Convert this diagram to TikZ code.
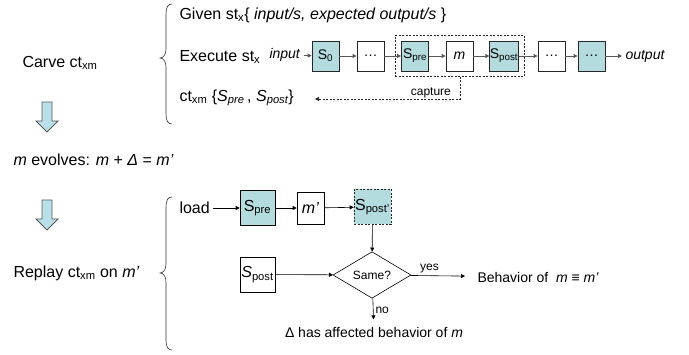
\documentclass[tikz,border=0pt]{standalone}
\usepackage{fontspec}
\setmainfont{Liberation Sans}
\usetikzlibrary{arrows.meta,shapes.geometric,fit}
\definecolor{boxfill}{RGB}{180,220,222}
\definecolor{arrowfill}{RGB}{185,223,232}
\tikzset{
  tbox/.style={draw=black!85, line width=0.8pt, minimum width=27pt, minimum height=30pt,
    inner sep=0pt, font=\fontsize{14}{16}\selectfont},
  bbox/.style={draw=black, line width=0.6pt, minimum width=35pt, minimum height=35pt,
    inner sep=0pt, font=\fontsize{16}{18}\selectfont},
  tarrow/.style={draw=black!65, line width=0.9pt, -{Triangle[length=4pt,width=4pt]}},
  barrow/.style={draw=black, line width=0.6pt, -{Triangle[length=4pt,width=4pt]}},
  capline/.style={draw=black!85, line width=0.6pt, dash pattern=on 2pt off 1.5pt},
  bigarrow/.style={draw=black!65, line width=0.8pt, fill=arrowfill},
  curly/.style={draw=black!80, line width=0.6pt},
  small/.style={font=\fontsize{12}{14}\selectfont},
  midtext/.style={font=\fontsize{14}{16}\selectfont}
}
\newcommand{\bigdown}[2]{%
  \draw[bigarrow] (#1-5,#2) -- (#1+5,#2) -- (#1+5,#2+19) -- (#1+11,#2+19) -- (#1,#2+30)
    -- (#1-11,#2+19) -- (#1-5,#2+19) -- cycle;}
\newcommand{\curlyb}[4]{% x, top, tip, bottom
  \draw[curly] (#1+12,#2) .. controls (#1+8,#2) and (#1+6,#2+3) .. (#1+6,#2+10)
    -- (#1+6,#3-9) .. controls (#1+6,#3-3) and (#1+3,#3) .. (#1,#3)
    .. controls (#1+3,#3) and (#1+6,#3+3) .. (#1+6,#3+9)
    -- (#1+6,#4-10) .. controls (#1+6,#4-3) and (#1+8,#4) .. (#1+12,#4);}
\begin{document}
\begin{tikzpicture}[x=1pt,y=-1pt,font=\fontsize{16}{19}\selectfont]
  \useasboundingbox (0,0) rectangle (689,355);

  % carve
  \node[right] (carve) at (19,63) {Carve ct\textsubscript{xm}};
  \curlyb{160}{4}{58}{124}
  \node[right] (given) at (176,15) {Given st\textsubscript{x}\{ \textit{input/s, expected output/s }\}};
  \node[right] (exec) at (176,57) {Execute st\textsubscript{x}};
  \node[right,midtext] (inp) at (266,55) {\textit{input}};
  \node[tbox,fill=boxfill] (s0) at (325.5,56) {S\textsubscript{0}};
  \node[tbox] (dots1) at (370.5,56) {\ldots};
  \node[tbox,fill=boxfill] (spre) at (415,56) {S\textsubscript{pre}};
  \node[tbox] (m) at (459.5,56) {\textit{m}};
  \node[tbox,fill=boxfill] (spost) at (504,56) {S\textsubscript{post}};
  \node[tbox] (dots2) at (551.5,56) {\ldots};
  \node[tbox,fill=boxfill] (dots3) at (591.5,56) {\ldots};
  \node[right,midtext] (outp) at (622,56) {\textit{output}};
  \node[capline,fit=(spre)(spost),inner xsep=6pt,inner ysep=5pt] (capbox) {};
  \draw[tarrow] (inp) -- (s0);
  \draw[tarrow] (s0) -- (dots1);
  \draw[tarrow] (dots1) -- (spre);
  \draw[tarrow] (spre) -- (m);
  \draw[tarrow] (m) -- (spost);
  \draw[tarrow] (spost) -- (dots2);
  \draw[tarrow] (dots2) -- (dots3);
  \draw[tarrow] (dots3) -- (outp);
  \node[right] (ct) at (176,98) {ct\textsubscript{xm} \{\textit{S\textsubscript{pre}}\,, \textit{S\textsubscript{post}}\}};
  \coordinate (ctend) at (315,99);
  \draw[capline,-{Triangle[length=4pt,width=4pt]}] (capbox.south) |- node[above,small,pos=0.6,inner sep=1pt] {capture} (ctend);

  % evolve
  \bigdown{47}{102}
  \node[right] (evolve) at (10,160) {\textit{m} evolves: \textit{m} + \textit{Δ} = \textit{m’}};
  \bigdown{47}{200}

  % replay
  \node[right] (replay) at (10,273) {Replay ct\textsubscript{xm} on \textit{m’}};
  \curlyb{160}{197}{273}{350}
  \node[right] (load) at (176,208) {load};
  \node[bbox,fill=boxfill] (bpre) at (257.5,208) {S\textsubscript{pre}};
  \node[bbox,minimum width=27pt,minimum height=32pt] (mp) at (310.5,208) {\textit{m’}};
  \node[bbox,fill=boxfill,capline,minimum width=37pt] (bpostp) at (372.5,207) {S\textsubscript{post’}};
  \node[bbox] (bpost) at (257.5,274.5) {\textit{S}\textsubscript{post}};
  \node[draw,diamond,line width=0.6pt,minimum width=78pt,minimum height=46pt,inner sep=0pt,small] (same) at (372,275) {Same?};
  \node[right,midtext] (beh) at (474,277) {Behavior of \ \textit{m} ≡ \textit{m’}};
  \node[midtext] (delta) at (374,332) {Δ has affected behavior of \textit{m}};
  \draw[barrow] (load) -- (bpre);
  \draw[barrow] (bpre) -- (mp);
  \draw[barrow] (mp) -- (bpostp);
  \draw[barrow] (bpostp) -- (same);
  \draw[barrow] (bpost) -- (same);
  \draw[barrow,shorten >=9pt] (same) -- node[above,small,pos=0.3,inner sep=2pt] {yes} (beh);
  \draw[barrow,shorten >=4pt] (same) -- node[right,small,inner sep=2pt] {no} (delta);
\end{tikzpicture}
\end{document}
